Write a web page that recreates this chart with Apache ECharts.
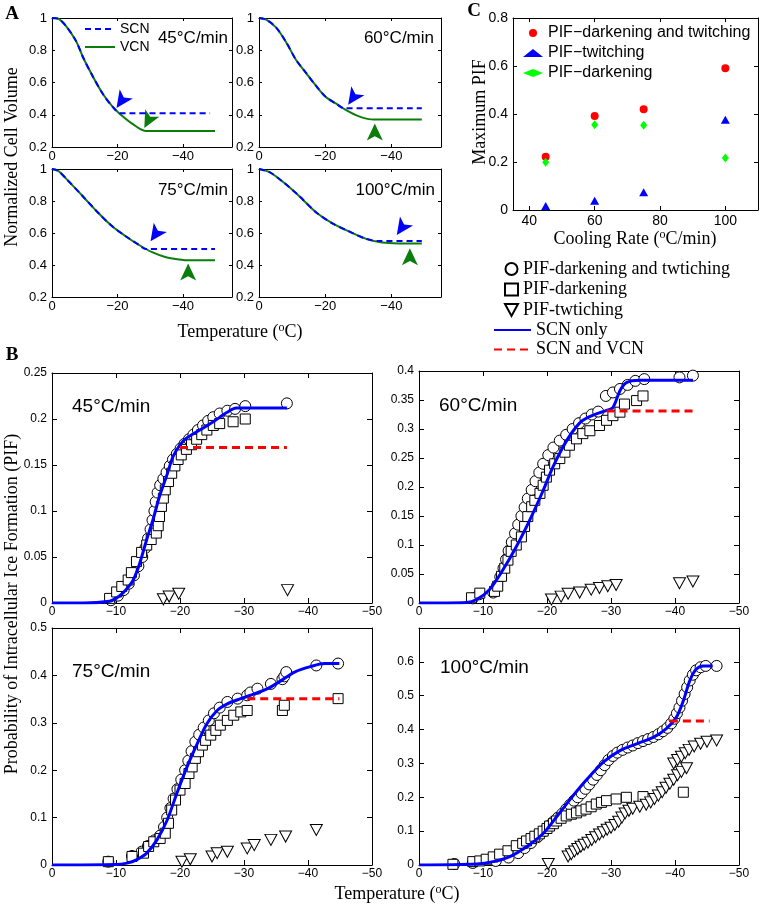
<!DOCTYPE html>
<html><head><meta charset="utf-8">
<script src="https://cdn.jsdelivr.net/npm/echarts@6/dist/echarts.min.js"></script>
<style>html,body{margin:0;padding:0;background:#fff}#c{width:762px;height:909px}</style>
</head><body><div id="c"></div>
<script>
// ===== Panel A: normalized cell volume vs temperature =====
const aScn45 = [[0,1],[-2,0.995],[-4.3,0.95],[-7.4,0.855],[-9.4,0.76],[-12.4,0.64],[-15.5,0.53],[-18.5,0.45],[-21,0.41],[-48.3,0.41]];
const aVcn45 = [[0,1],[-2,0.995],[-4.3,0.95],[-7.4,0.855],[-9.4,0.76],[-12.4,0.64],[-15.5,0.53],[-18.5,0.45],[-20.5,0.41],[-24.5,0.345],[-28.6,0.30],[-49.8,0.30]];
const aScn60 = [[0,1],[-2.2,0.99],[-5.2,0.94],[-8.2,0.85],[-11.2,0.74],[-14.2,0.66],[-17.2,0.58],[-20.2,0.51],[-23.2,0.47],[-25.8,0.44],[-49.2,0.44]];
const aVcn60 = [[0,1],[-2.2,0.99],[-5.2,0.94],[-8.2,0.85],[-11.2,0.74],[-14.2,0.66],[-17.2,0.58],[-20.2,0.51],[-23.2,0.47],[-26.2,0.43],[-30.2,0.39],[-34.7,0.37],[-49.2,0.37]];
const aScn75 = [[0,1],[-1.8,0.99],[-4.3,0.94],[-9.4,0.83],[-14.4,0.72],[-18.5,0.64],[-22.5,0.58],[-26.6,0.525],[-28.5,0.50],[-49.8,0.50]];
const aVcn75 = [[0,1],[-1.8,0.99],[-4.3,0.94],[-9.4,0.83],[-14.4,0.72],[-18.5,0.64],[-22.5,0.58],[-26.6,0.525],[-30.6,0.48],[-34.6,0.45],[-38.7,0.435],[-40.7,0.43],[-49.8,0.43]];
const aScn100 = [[0,1],[-3.2,0.98],[-7.2,0.92],[-12.2,0.83],[-17.2,0.73],[-22.2,0.66],[-27.2,0.61],[-32.2,0.565],[-36,0.55],[-49.2,0.55]];
const aVcn100 = [[0,1],[-3.2,0.98],[-7.2,0.92],[-12.2,0.83],[-17.2,0.73],[-22.2,0.66],[-27.2,0.61],[-32.2,0.565],[-37.2,0.54],[-42.2,0.535],[-49.2,0.535]];
const aArrowScn = [[-22.2,0.50],[-29.4,0.52],[-32.6,0.606],[-44.1,0.646]];
const aArrowVcn = [[-30.5,0.376],[-35,0.293],[-41.6,0.357],[-45.6,0.451]];
const aRates = ['45°C/min','60°C/min','75°C/min','100°C/min'];

// ===== Panel C: maximum PIF vs cooling rate =====
const cRates = [45, 60, 75, 100];
const cPifBoth = [0.222, 0.392, 0.42, 0.591];
const cPifTwitch = [0.017, 0.039, 0.074, 0.376];
const cPifDark = [0.199, 0.355, 0.353, 0.217];

// ===== Panel B: cumulative PIF vs temperature =====
const bCircles45 = [[-9.2,0.003],[-10.3,0.008],[-11.2,0.014],[-12,0.021],[-12.8,0.03],[-13.5,0.04],[-14.1,0.05],[-14.6,0.06],[-15,0.07],[-15.4,0.08],[-15.7,0.09],[-16,0.1],[-16.2,0.11],[-16.5,0.12],[-16.9,0.128],[-17.4,0.135],[-17.9,0.142],[-18.4,0.149],[-18.9,0.156],[-19.5,0.162],[-20.1,0.168],[-20.7,0.173],[-21.4,0.178],[-22.1,0.183],[-22.8,0.188],[-23.6,0.193],[-24.4,0.198],[-25.2,0.202],[-26.2,0.206],[-27.4,0.209],[-28.6,0.211],[-30.2,0.214],[-36.7,0.217]];
const bSquares45 = [[-9,0.005],[-10.1,0.012],[-10.9,0.018],[-11.9,0.025],[-12.4,0.033],[-13.2,0.045],[-14,0.055],[-14.8,0.063],[-15.5,0.069],[-16.3,0.076],[-16.6,0.084],[-16.8,0.094],[-17.1,0.105],[-17.4,0.114],[-17.7,0.123],[-18.2,0.132],[-18.7,0.141],[-19.2,0.149],[-19.7,0.156],[-20.2,0.161],[-21,0.167],[-21.8,0.172],[-22.6,0.178],[-23.4,0.183],[-24.2,0.188],[-25.2,0.193],[-26.2,0.195],[-28.3,0.197],[-30.2,0.2]];
const bTri45 = [[-17.4,0.004],[-18.3,0.007],[-19.8,0.01],[-36.8,0.014]];
const bScn45 = [[0,0],[-5,0],[-9,0.002],[-10,0.005],[-11.1,0.011],[-12,0.018],[-12.7,0.025],[-13.7,0.043],[-14.8,0.069],[-15.8,0.091],[-16.8,0.116],[-17.9,0.138],[-18.9,0.159],[-20,0.172],[-21,0.179],[-23.1,0.188],[-25.2,0.197],[-27.3,0.207],[-28.8,0.212],[-36.7,0.212]];
const bVcn45 = [[-20,0.169],[-36.7,0.169]];

const bCircles60 = [[-8.4,0.008],[-9.4,0.015],[-11.6,0.018],[-12.2,0.03],[-12.7,0.045],[-13.2,0.06],[-13.6,0.075],[-14,0.09],[-14.5,0.105],[-15,0.12],[-15.5,0.135],[-16,0.15],[-16.5,0.165],[-17,0.18],[-17.6,0.195],[-18.2,0.21],[-18.8,0.225],[-19.4,0.24],[-20.2,0.255],[-21,0.268],[-22,0.28],[-23,0.29],[-24,0.3],[-25,0.31],[-26,0.318],[-27,0.325],[-28,0.33],[-29.2,0.357],[-30.3,0.363],[-31.4,0.369],[-32.6,0.376],[-33.8,0.383],[-35.2,0.386],[-40.7,0.389],[-42.8,0.392]];
const bSquares60 = [[-8.2,0.009],[-9.5,0.017],[-11.8,0.02],[-12.3,0.029],[-12.9,0.046],[-13.4,0.06],[-13.9,0.074],[-14.4,0.089],[-15.2,0.1],[-16,0.114],[-16.5,0.132],[-17,0.149],[-17.6,0.166],[-18.1,0.177],[-18.9,0.189],[-19.4,0.203],[-19.9,0.217],[-20.4,0.229],[-21.2,0.24],[-22,0.249],[-22.8,0.26],[-23.5,0.272],[-24.6,0.283],[-25.6,0.292],[-26.7,0.297],[-28.2,0.306],[-29.3,0.315],[-30.3,0.323],[-31.4,0.329],[-32.1,0.343],[-34,0.349],[-35,0.357]];
const bTri60 = [[-20.7,0.006],[-22.2,0.011],[-23.3,0.016],[-25.1,0.018],[-26.9,0.023],[-28.2,0.026],[-29.5,0.029],[-30.8,0.031],[-40.7,0.034],[-42.8,0.037]];
const bScn60 = [[0,0],[-7.4,0.001],[-9,0.006],[-11,0.023],[-13.1,0.057],[-15.2,0.097],[-17.3,0.143],[-19.4,0.194],[-20.9,0.234],[-22.5,0.269],[-24.1,0.297],[-25.6,0.315],[-27.7,0.326],[-29.3,0.332],[-30.3,0.337],[-31.4,0.366],[-32.4,0.38],[-34.5,0.384],[-42.8,0.384]];
const bVcn60 = [[-29.3,0.331],[-42.8,0.331]];

const bCircles75 = [[-8.8,0.007],[-12.5,0.019],[-14,0.028],[-15,0.04],[-16,0.052],[-16.9,0.062],[-17.5,0.08],[-18,0.1],[-18.5,0.12],[-19,0.14],[-19.6,0.16],[-20.2,0.18],[-20.8,0.2],[-21.3,0.22],[-21.8,0.24],[-22.4,0.26],[-23,0.275],[-23.7,0.29],[-24.5,0.305],[-25.3,0.32],[-26.2,0.332],[-27.4,0.344],[-29,0.351],[-30.5,0.358],[-31,0.364],[-32.1,0.372],[-34.2,0.382],[-36,0.392],[-36.3,0.398],[-36.6,0.407],[-41.3,0.421],[-44.7,0.425]];
const bSquares75 = [[-8.8,0.007],[-12.5,0.018],[-14.3,0.025],[-15.1,0.039],[-15.9,0.049],[-16.9,0.056],[-17.7,0.067],[-18.2,0.088],[-18.7,0.116],[-19.3,0.137],[-20,0.158],[-20.8,0.172],[-21.4,0.193],[-21.9,0.207],[-22.4,0.225],[-22.9,0.239],[-23.5,0.253],[-24,0.263],[-24.8,0.274],[-25.6,0.284],[-26.3,0.295],[-27.4,0.305],[-28.4,0.316],[-29.5,0.323],[-30.5,0.326],[-36,0.326],[-36.3,0.337],[-44.7,0.351]];
const bTri75 = [[-20.3,0.007],[-21.6,0.012],[-25,0.018],[-25.8,0.025],[-27.4,0.028],[-30.5,0.035],[-31.6,0.042],[-34.2,0.053],[-36.5,0.06],[-41.3,0.074]];
const bScn75 = [[0,0],[-10,0.001],[-11.7,0.004],[-13.2,0.011],[-14.8,0.025],[-16.4,0.053],[-18,0.095],[-19.5,0.151],[-21.1,0.207],[-22.7,0.256],[-24.2,0.298],[-25.8,0.326],[-27.4,0.34],[-29.5,0.351],[-31.6,0.361],[-33.7,0.372],[-35.8,0.389],[-37.9,0.407],[-40.5,0.419],[-42.6,0.425],[-44.9,0.425]];
const bVcn75 = [[-30.5,0.351],[-44.9,0.351]];

const bCircles100 = [[-5.5,0.003],[-8.4,0.006],[-12,0.012],[-14,0.022],[-15.5,0.035],[-16.5,0.05],[-17.5,0.065],[-18.5,0.082],[-19.5,0.1],[-20.3,0.115],[-21,0.128],[-21.7,0.14],[-22.4,0.152],[-23,0.165],[-23.6,0.178],[-24.2,0.19],[-24.8,0.2],[-25.4,0.212],[-26,0.225],[-26.6,0.238],[-27.2,0.252],[-27.8,0.266],[-28.4,0.28],[-29,0.295],[-29.6,0.31],[-30.3,0.322],[-31,0.332],[-31.8,0.34],[-32.6,0.347],[-33.4,0.353],[-34.2,0.36],[-35,0.366],[-35.8,0.372],[-36.6,0.378],[-37.4,0.386],[-38.1,0.395],[-38.8,0.405],[-39.4,0.418],[-39.9,0.432],[-40.3,0.448],[-40.7,0.465],[-41.1,0.485],[-41.5,0.505],[-41.9,0.525],[-42.3,0.545],[-42.8,0.562],[-43.3,0.575],[-44,0.584],[-44.8,0.588],[-46.5,0.588]];
const bSquares100 = [[-5.3,0.002],[-8.4,0.01],[-9.5,0.012],[-10.5,0.017],[-11.6,0.024],[-12.6,0.032],[-13.9,0.042],[-15.2,0.057],[-16.2,0.064],[-16.8,0.071],[-17.5,0.078],[-18.1,0.085],[-18.8,0.092],[-19.4,0.1],[-20,0.108],[-20.4,0.115],[-21,0.122],[-21.5,0.13],[-22.2,0.138],[-23,0.145],[-23.8,0.15],[-24.6,0.154],[-25.3,0.16],[-26.1,0.165],[-26.9,0.172],[-27.7,0.18],[-28.5,0.185],[-29.3,0.19],[-30.8,0.195],[-32.4,0.2],[-35,0.202],[-41.3,0.215]];
const bTri100 = [[-20.2,0.003],[-23.3,0.025],[-23.8,0.032],[-24.3,0.04],[-24.8,0.047],[-25.3,0.054],[-25.8,0.06],[-26.4,0.066],[-27,0.074],[-27.6,0.082],[-28.2,0.09],[-28.8,0.097],[-29.4,0.104],[-30,0.11],[-30.6,0.118],[-31.2,0.128],[-31.7,0.14],[-32.2,0.152],[-32.8,0.16],[-33.4,0.166],[-34.5,0.172],[-35.5,0.178],[-36.2,0.185],[-36.8,0.195],[-37.4,0.205],[-38,0.215],[-38.6,0.228],[-39.2,0.24],[-39.8,0.252],[-40.4,0.265],[-41,0.275],[-41.8,0.286],[-39.8,0.3],[-40.4,0.31],[-41,0.32],[-41.6,0.33],[-42.2,0.34],[-43,0.35],[-44,0.358],[-45,0.364],[-46.5,0.368]];
const bScn100 = [[0,0],[-9,0.003],[-11.6,0.01],[-14.2,0.025],[-16.8,0.054],[-19.4,0.093],[-21.5,0.142],[-23.5,0.191],[-26.1,0.25],[-28.8,0.304],[-31.4,0.338],[-34,0.358],[-36.6,0.377],[-38.6,0.402],[-40.2,0.436],[-41.3,0.485],[-42.3,0.544],[-43.3,0.578],[-44.4,0.588],[-45.9,0.588]];
const bVcn100 = [[-39.2,0.425],[-45.4,0.425]];

// ===== tick definitions =====
const aXTicks = [0, -20, -40];
const cXTicks = [40, 60, 80, 100];

const SANS = 'Liberation Sans', SERIF = 'Liberation Serif';
function fmt(v){ const s = String(Math.round(v*10000)/10000); return s.replace('-', '\u2212'); }

// arrowhead symbol (notched) pointing in a compass direction (0 = up, clockwise)
function arrowSymbol(deg, w, h) {
  const dx = w / 3 * 2, a = deg * Math.PI / 180, c = Math.cos(a), s = Math.sin(a);
  const pts = [[0,-h/2],[dx,h/2],[0,h/4],[-dx,h/2]].map(p => [p[0]*c - p[1]*s, p[0]*s + p[1]*c]);
  const xs = pts.map(p=>p[0]), ys = pts.map(p=>p[1]);
  const minX = Math.min(...xs), minY = Math.min(...ys);
  const bw = Math.max(...xs) - minX, bh = Math.max(...ys) - minY;
  const d = 'path://M' + pts.map(p => (p[0]-minX).toFixed(2) + ',' + (p[1]-minY).toFixed(2)).join('L') + 'Z';
  return {symbol:d, size:[bw, bh]};
}

const grids = [], xAxes = [], yAxes = [], series = [];
function mkAxis(gi, cfg, pos, showLabel) {
  const a = {
    type:'value', gridIndex:gi, position:pos, min:cfg.min, max:cfg.max, inverse:!!cfg.inverse,
    axisLine:{show:true, onZero:false, lineStyle:{color:'#000', width:1}},
    axisTick:{show:true, inside:true, length:cfg.tick, lineStyle:{color:'#000', width:1}},
    axisLabel:{show:showLabel, color:'#000', fontFamily:SANS, fontSize:cfg.fs, margin:cfg.margin, formatter:fmt},
    splitLine:{show:false}, splitArea:{show:false}, silent:true
  };
  if (cfg.interval != null) a.interval = cfg.interval;
  if (cfg.ticks) { a.axisTick.customValues = cfg.ticks; a.axisLabel.customValues = cfg.ticks; }
  if (cfg.hideMax) a.axisLabel.showMaxLabel = false;
  return a;
}
function panel(box, xc, yc) {
  const gi = grids.length;
  grids.push({left:box[0], top:box[1], width:box[2], height:box[3], show:false, containLabel:false, outerBoundsMode:'none'});
  const x = xAxes.length; xAxes.push(mkAxis(gi, xc, 'bottom', true)); xAxes.push(mkAxis(gi, xc, 'top', false));
  const y = yAxes.length; yAxes.push(mkAxis(gi, yc, 'left', true)); yAxes.push(mkAxis(gi, yc, 'right', false));
  return {x, y};
}
function addLine(name, data, ax, color, width, dash, smooth) {
  series.push({type:'line', name, data, xAxisIndex:ax.x, yAxisIndex:ax.y, symbol:'none', showSymbol:false,
    smooth: smooth || false, lineStyle:{color, width, type: dash || 'solid'}, itemStyle:{color},
    silent:true, emphasis:{disabled:true}});
}
function addScatter(name, data, ax, symbol, size, rotate, fill, stroke) {
  series.push({type:'scatter', name, data, xAxisIndex:ax.x, yAxisIndex:ax.y, symbol, symbolSize:size, symbolRotate:rotate || 0,
    itemStyle:{color:fill, borderColor:stroke || fill, borderWidth: stroke ? 1 : 0, opacity:1},
    silent:true, emphasis:{disabled:true}});
}

// ----- A panels -----
const axA = {min:-55, max:0, inverse:true, ticks:aXTicks, tick:3, fs:13, margin:3};
const ayA = {min:0.2, max:1, interval:0.2, tick:3, fs:13, margin:5};
const aBoxes = [[52,18,180,129],[259,18,182,129],[52,169,180,128],[259,169,182,128]];
const aScn = [aScn45, aScn60, aScn75, aScn100], aVcn = [aVcn45, aVcn60, aVcn75, aVcn100];
const GREEN = '#0b7d0b', BLUE = '#0000ff';
const blueArrow = arrowSymbol(215, 12, 17);
aBoxes.forEach((b, i) => {
  const ax = panel(b, axA, ayA);
  addLine('VCN', aVcn[i], ax, GREEN, 2, 'solid', 0.3);
  addLine('SCN', aScn[i], ax, BLUE, 2, [6,4], 0.3);
  const ga = arrowSymbol(i === 0 ? 208 : 0, 12, 17);
  addScatter('arrowSCN', [aArrowScn[i]], ax, blueArrow.symbol, blueArrow.size, 0, BLUE);
  addScatter('arrowVCN', [aArrowVcn[i]], ax, ga.symbol, ga.size, 0, GREEN);
});

// ----- C panel -----
const axC = panel([513,18,245,192], {min:35, max:110, ticks:cXTicks, tick:4, fs:14, margin:4}, {min:0, max:0.8, interval:0.2, tick:4, fs:14, margin:5});
addScatter('PIF\u2212darkening and twitching', cRates.map((r,i)=>[r,cPifBoth[i]]), axC, 'circle', 8, 0, '#ff0000');
addScatter('PIF\u2212twitching', cRates.map((r,i)=>[r,cPifTwitch[i]]), axC, 'triangle', [9,8], 0, '#0000ff');
addScatter('PIF\u2212darkening', cRates.map((r,i)=>[r,cPifDark[i]]), axC, 'diamond', [7,9], 0, '#00ff00');

// ----- B panels -----
const axB = {min:-50, max:0, inverse:true, interval:10, tick:5, fs:12, margin:3};
const bSets = [
  {box:[52,373,320,230], y:{min:0,max:0.25,interval:0.05}, c:bCircles45, s:bSquares45, t:bTri45, scn:bScn45, vcn:bVcn45},
  {box:[419,371,320,232], y:{min:0,max:0.4,interval:0.05}, c:bCircles60, s:bSquares60, t:bTri60, scn:bScn60, vcn:bVcn60},
  {box:[52,628,320,237], y:{min:0,max:0.5,interval:0.1}, c:bCircles75, s:bSquares75, t:bTri75, scn:bScn75, vcn:bVcn75},
  {box:[419,628,320,237], y:{min:0,max:0.7,interval:0.1,hideMax:true}, c:bCircles100, s:bSquares100, t:bTri100, scn:bScn100, vcn:bVcn100}
];
bSets.forEach(p => {
  const ax = panel(p.box, axB, Object.assign({tick:5, fs:12, margin:5}, p.y));
  addScatter('PIF-darkening and twtiching', p.c, ax, 'circle', 11, 0, '#ffffff', '#000000');
  addScatter('PIF-darkening', p.s, ax, 'rect', 10, 0, '#ffffff', '#000000');
  addScatter('PIF-twtiching', p.t, ax, 'triangle', [12,11], 180, '#ffffff', '#000000');
  addLine('SCN only', p.scn, ax, BLUE, 3, 'solid', 0.3);
  addLine('SCN and VCN', p.vcn, ax, '#ff0000', 3, [8,5], false);
});

// ----- text -----
function txt(text, x, y, font, align, rot) {
  return {type:'text', x, y, rotation: rot || 0, silent:true,
    style:{text, x:0, y:0, font, fill:'#000', align: align || 'center', textAlign: align || 'center', verticalAlign:'middle', textVerticalAlign:'middle'}};
}
const serif18 = '18px "Liberation Serif"';
const graphics = [
  txt('A', 12, 14, 'bold 19px "Liberation Serif"'),
  txt('B', 12, 355, 'bold 19px "Liberation Serif"'),
  txt('C', 474, 11, 'bold 19px "Liberation Serif"'),
  txt('Normalized Cell Volume', 12, 157, serif18, 'center', Math.PI/2),
  txt('Maximum PIF', 480, 112, serif18, 'center', Math.PI/2),
  txt('Probability of Intracellular Ice Formation (PIF)', 12, 604, serif18, 'center', Math.PI/2),
  txt(aRates[0], 228, 38, '17px "Liberation Sans"', 'right'),
  txt(aRates[1], 434, 38, '17px "Liberation Sans"', 'right'),
  txt(aRates[2], 228, 190, '17px "Liberation Sans"', 'right'),
  txt(aRates[3], 435, 190, '17px "Liberation Sans"', 'right'),
  txt(aRates[0], 72, 407, '19px "Liberation Sans"', 'left'),
  txt(aRates[1], 439, 406, '19px "Liberation Sans"', 'left'),
  txt(aRates[2], 72, 672, '19px "Liberation Sans"', 'left'),
  txt(aRates[3], 440, 668, '19px "Liberation Sans"', 'left')
];
const supRich = {s:{fontSize:12, fontFamily:SERIF, color:'#000', verticalAlign:'top', lineHeight:18}};
function ttl(text, x, y) {
  return {text, left:x, top:y - 10, textAlign:'center', padding:0, itemGap:0,
    textStyle:{fontFamily:SERIF, fontSize:18, fontWeight:'normal', color:'#000', lineHeight:20, rich:supRich}};
}
const titles = [
  ttl('Temperature ({s|o}C)', 240, 332),
  ttl('Cooling Rate ({s|o}C/min)', 635, 239),
  ttl('Temperature ({s|o}C)', 397, 894)
];

const legends = [
  {data:['SCN','VCN'], left:84, top:22, orient:'vertical', itemWidth:30, itemHeight:10, itemGap:4, padding:0, selectedMode:false,
   itemStyle:{opacity:0}, textStyle:{fontFamily:SANS, fontSize:14, color:'#000', lineHeight:14}},
  {data:['PIF\u2212darkening and twitching','PIF\u2212twitching','PIF\u2212darkening'], left:523, top:25, orient:'vertical',
   itemWidth:20, itemHeight:8, itemGap:4, padding:0, selectedMode:false,
   textStyle:{fontFamily:SANS, fontSize:16, color:'#000', lineHeight:16}},
  {data:[{name:'PIF-darkening and twtiching'},{name:'PIF-darkening'},{name:'PIF-twtiching', icon:'path://M0,0L12,0L6,11Z'}],
   left:504, top:260, orient:'vertical', itemWidth:13, itemHeight:12, itemGap:2.5, padding:0, selectedMode:false,
   textStyle:{fontFamily:SERIF, fontSize:18, color:'#000', lineHeight:18}},
  {data:['SCN only','SCN and VCN'], left:493, top:321, orient:'vertical', itemWidth:37, itemHeight:10, itemGap:1.5, padding:0, selectedMode:false,
   itemStyle:{opacity:0}, textStyle:{fontFamily:SERIF, fontSize:18, color:'#000', lineHeight:18}}
];

const chart = echarts.init(document.getElementById('c'), null, {renderer:'canvas', width:762, height:909});
chart.setOption({
  animation:false, backgroundColor:'#ffffff',
  title: titles, legend: legends, grid: grids, xAxis: xAxes, yAxis: yAxes, series: series, graphic: graphics
});
</script>
</body></html>
